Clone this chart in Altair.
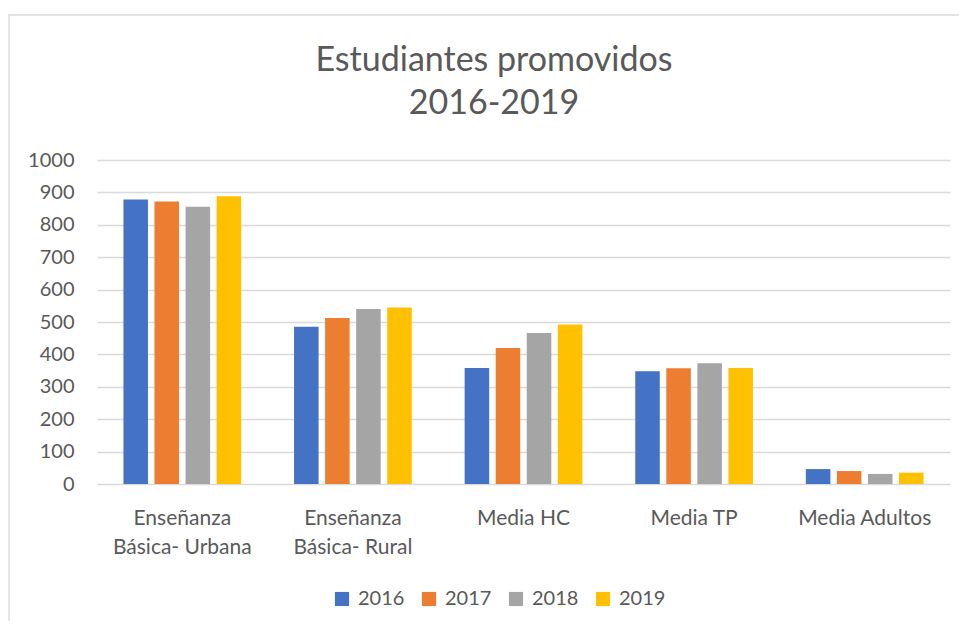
import altair as alt
import pandas as pd

categories = ["Enseñanza Básica- Urbana", "Enseñanza Básica- Rural", "Media HC", "Media TP", "Media Adultos"]
years = ["2016", "2017", "2018", "2019"]
v2016 = [878, 485, 358, 348, 46]
v2017 = [872, 512, 420, 357, 40]
v2018 = [856, 540, 466, 373, 31]
v2019 = [888, 545, 492, 358, 35]
colors = ["#4472C4", "#ED7D31", "#A5A5A5", "#FFC000"]
y_ticks = list(range(0, 1001, 100))
title_lines = ["Estudiantes promovidos", "2016-2019"]

rows = []
for yr, vals in zip(years, [v2016, v2017, v2018, v2019]):
    for c, v in zip(categories, vals):
        rows.append({"cat": c, "year": yr, "value": v})
df = pd.DataFrame(rows)

FONT = "Lato"
GREY = "#595959"

label_expr = ("datum.label == 'Enseñanza Básica- Urbana' ? ['Enseñanza', 'Básica- Urbana'] : "
              "datum.label == 'Enseñanza Básica- Rural' ? ['Enseñanza', 'Básica- Rural'] : datum.label")

bars = alt.Chart(df).mark_bar().encode(
    x=alt.X("cat:N", sort=categories, title=None,
            scale=alt.Scale(paddingInner=0.31, paddingOuter=0.155),
            axis=alt.Axis(labelAngle=0, labelFontSize=21, labelColor=GREY, labelFont=FONT,
                          labelExpr=label_expr, labelLineHeight=29, labelPadding=34,
                          ticks=False, domain=False, labelBaseline="middle")),
    xOffset=alt.XOffset("year:N", sort=years, scale=alt.Scale(paddingInner=0.21, paddingOuter=0)),
    y=alt.Y("value:Q", title=None,
            scale=alt.Scale(domain=[0, 1000], nice=False),
            axis=alt.Axis(values=y_ticks, format="d", labelFontSize=20, labelColor=GREY, labelFont=FONT,
                          labelPadding=23, ticks=False, domain=False,
                          gridColor="#D9D9D9", gridWidth=1.3)),
    color=alt.Color("year:N", sort=years, scale=alt.Scale(domain=years, range=colors),
                    legend=alt.Legend(title=None, orient="none", direction="horizontal",
                                      legendX=235, legendY=429, symbolType="square",
                                      symbolSize=200, symbolStrokeWidth=0,
                                      labelFontSize=20, labelColor=GREY, labelFont=FONT,
                                      columnPadding=14, labelOffset=6)),
)

one = pd.DataFrame({"a": [0]})

border = alt.Chart(one).mark_rect(
    fill=None, stroke="#D9D9D9", strokeWidth=1.3
).encode(x=alt.value(-88), x2=alt.value(880), y=alt.value(-145), y2=alt.value(480))

title1 = alt.Chart(one).mark_text(
    text=title_lines[0], fontSize=34, font=FONT, fontWeight="normal", color=GREY,
    align="center", baseline="middle"
).encode(x=alt.value(397), y=alt.value(-99))

title2 = alt.Chart(one).mark_text(
    text=title_lines[1], fontSize=34, font=FONT, fontWeight="normal", color=GREY,
    align="center", baseline="middle"
).encode(x=alt.value(397), y=alt.value(-56))

chart = alt.layer(border, title1, title2, bars).properties(
    width=853, height=324,
    autosize=alt.AutoSizeParams(type="none"),
    padding={"left": 89, "top": 152, "right": 9, "bottom": 137},
).configure_view(stroke=None)

chart.save("out.html", embed_options={"renderer": "svg", "actions": False})
